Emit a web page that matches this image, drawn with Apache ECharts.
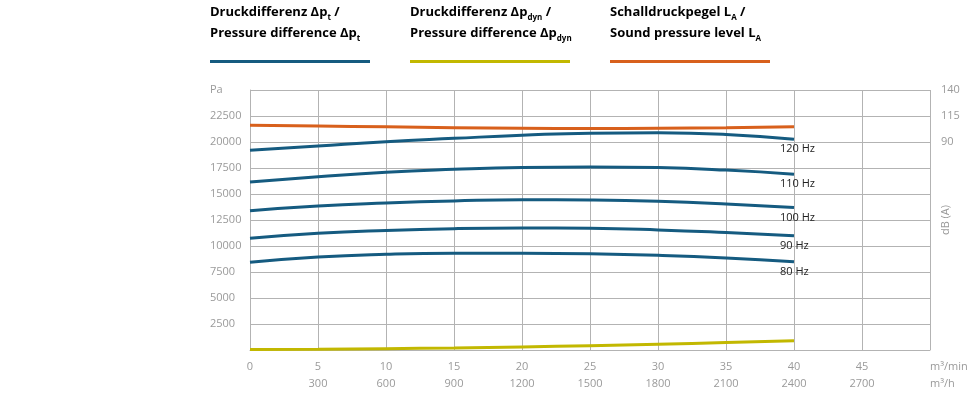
<!DOCTYPE html>
<html>
<head>
<meta charset="utf-8">
<script src="https://cdn.jsdelivr.net/npm/echarts@6/dist/echarts.min.js"></script>
<style>
  html, body { margin: 0; padding: 0; background: #fff; }
  #chart { width: 980px; height: 400px; }
</style>
</head>
<body>
<div id="chart"></div>
<script>
// Volumenstrom m³/min
const flow = [0, 5, 10, 15, 20, 25, 30, 35, 40];
// Tick labels
const tickMin = ['0', '5', '10', '15', '20', '25', '30', '35', '40', '45'];
const tickHour = ['', '300', '600', '900', '1200', '1500', '1800', '2100', '2400', '2700'];
const dbTicks = [90, 115, 140];

// Druckdifferenz Δpt (Pa) je Frequenz
const hz120 = [19200, 19620, 20030, 20350, 20650, 20850, 20880, 20720, 20260];
const hz110 = [16150, 16660, 17100, 17370, 17550, 17600, 17540, 17300, 16900];
const hz100 = [13400, 13850, 14130, 14330, 14450, 14420, 14300, 14050, 13700];
const hz90 = [10740, 11220, 11500, 11670, 11730, 11700, 11550, 11300, 10990];
const hz80 = [8430, 8940, 9200, 9300, 9300, 9250, 9100, 8850, 8490];
// Druckdifferenz Δpdyn (Pa)
const pdyn = [60, 80, 130, 200, 300, 420, 560, 720, 900];
// Schalldruckpegel LA dB(A)
const levelLA = [106, 105.3, 104.6, 103.8, 103.2, 103.0, 103.2, 103.8, 104.7];

const BLUE = '#155b80';
const YELLOW = '#c2b800';
const ORANGE = '#d8601c';
const GRID = '#b3b3b3';
const LABEL = '#9a9a9a';

const chart = echarts.init(document.getElementById('chart'));

function pairs(arr) {
  return arr.map((v, i) => [flow[i], v]);
}

function ptSeries(name, arr) {
  return {
    name: name,
    type: 'line',
    smooth: true,
    symbol: 'none',
    yAxisIndex: 0,
    lineStyle: { color: BLUE, width: 3 },
    itemStyle: { color: BLUE },
    endLabel: {
      show: true,
      formatter: name,
      distance: 0,
      align: 'left',
      verticalAlign: 'middle',
      offset: [-14, 10],
      color: '#222',
      fontSize: 11,
      fontFamily: 'Open Sans'
    },
    data: pairs(arr)
  };
}

const legendRich = {
  b: { fontSize: 13, fontWeight: 'bold', fontFamily: 'Open Sans', color: '#1a1a1a', lineHeight: 21 },
  s: { fontSize: 8, fontWeight: 'bold', fontFamily: 'Open Sans', color: '#1a1a1a', lineHeight: 21, verticalAlign: 'bottom', padding: [0, 0, 1, 0] }
};

const option = {
  animation: false,
  textStyle: { fontFamily: 'Open Sans' },
  grid: { left: 250, right: 50, top: 90, bottom: 50, outerBoundsMode: 'none', containLabel: false },
  xAxis: {
    type: 'value',
    min: 0,
    max: 50,
    interval: 5,
    name: 'm³/min\nm³/h',
    nameLocation: 'end',
    nameGap: 0,
    nameTextStyle: {
      color: LABEL, fontSize: 11, lineHeight: 17,
      align: 'left', verticalAlign: 'top', padding: [8, 0, 0, 0]
    },
    axisLine: { show: true, lineStyle: { color: GRID, width: 1 } },
    axisTick: { show: false },
    splitLine: { show: true, lineStyle: { color: GRID, width: 1 } },
    axisLabel: {
      color: LABEL,
      fontSize: 11,
      lineHeight: 17,
      margin: 8,
      formatter: function (v) {
        const i = Math.round(v / 5);
        if (i >= tickMin.length) return '';
        return tickMin[i] + '\n' + tickHour[i];
      }
    }
  },
  yAxis: [
    {
      type: 'value',
      min: 0,
      max: 25000,
      interval: 2500,
      axisLine: { show: true, lineStyle: { color: GRID, width: 1 } },
      axisTick: { show: false },
      splitLine: { show: true, lineStyle: { color: GRID, width: 1 } },
      axisLabel: {
        color: LABEL,
        fontSize: 11,
        align: 'left',
        margin: 40,
        formatter: function (v) {
          if (v === 0) return '';
          if (v === 25000) return 'Pa';
          return String(v);
        }
      }
    },
    {
      type: 'value',
      position: 'right',
      min: -110,
      max: 140,
      name: 'dB (A)',
      nameLocation: 'middle',
      nameRotate: 90,
      nameGap: 10,
      nameMoveOverlap: false,
      nameTextStyle: { color: LABEL, fontSize: 11 },
      axisLine: { show: false },
      axisTick: { show: false },
      splitLine: { show: false },
      axisLabel: {
        color: LABEL,
        fontSize: 11,
        margin: 11,
        customValues: dbTicks
      }
    }
  ],
  graphic: [
    { type: 'text', left: 210, top: 6, style: { text: '{b|Druckdifferenz Δp}{s|t}{b| /}\n{b|Pressure difference Δp}{s|t}', rich: legendRich } },
    { type: 'rect', left: 210, top: 60, shape: { width: 160, height: 3 }, style: { fill: BLUE } },
    { type: 'text', left: 410, top: 6, style: { text: '{b|Druckdifferenz Δp}{s|dyn}{b| /}\n{b|Pressure difference Δp}{s|dyn}', rich: legendRich } },
    { type: 'rect', left: 410, top: 60, shape: { width: 160, height: 3 }, style: { fill: YELLOW } },
    { type: 'text', left: 610, top: 6, style: { text: '{b|Schalldruckpegel L}{s|A}{b| /}\n{b|Sound pressure level L}{s|A}', rich: legendRich } },
    { type: 'rect', left: 610, top: 60, shape: { width: 160, height: 3 }, style: { fill: ORANGE } }
  ],
  series: [
    ptSeries('120 Hz', hz120),
    ptSeries('110 Hz', hz110),
    ptSeries('100 Hz', hz100),
    ptSeries('90 Hz', hz90),
    ptSeries('80 Hz', hz80),
    {
      name: 'Δpdyn',
      type: 'line',
      smooth: true,
      symbol: 'none',
      yAxisIndex: 0,
      lineStyle: { color: YELLOW, width: 3 },
      data: pairs(pdyn)
    },
    {
      name: 'LA',
      type: 'line',
      smooth: true,
      symbol: 'none',
      yAxisIndex: 1,
      lineStyle: { color: ORANGE, width: 3 },
      data: pairs(levelLA)
    }
  ]
};

chart.setOption(option);
</script>
</body>
</html>
